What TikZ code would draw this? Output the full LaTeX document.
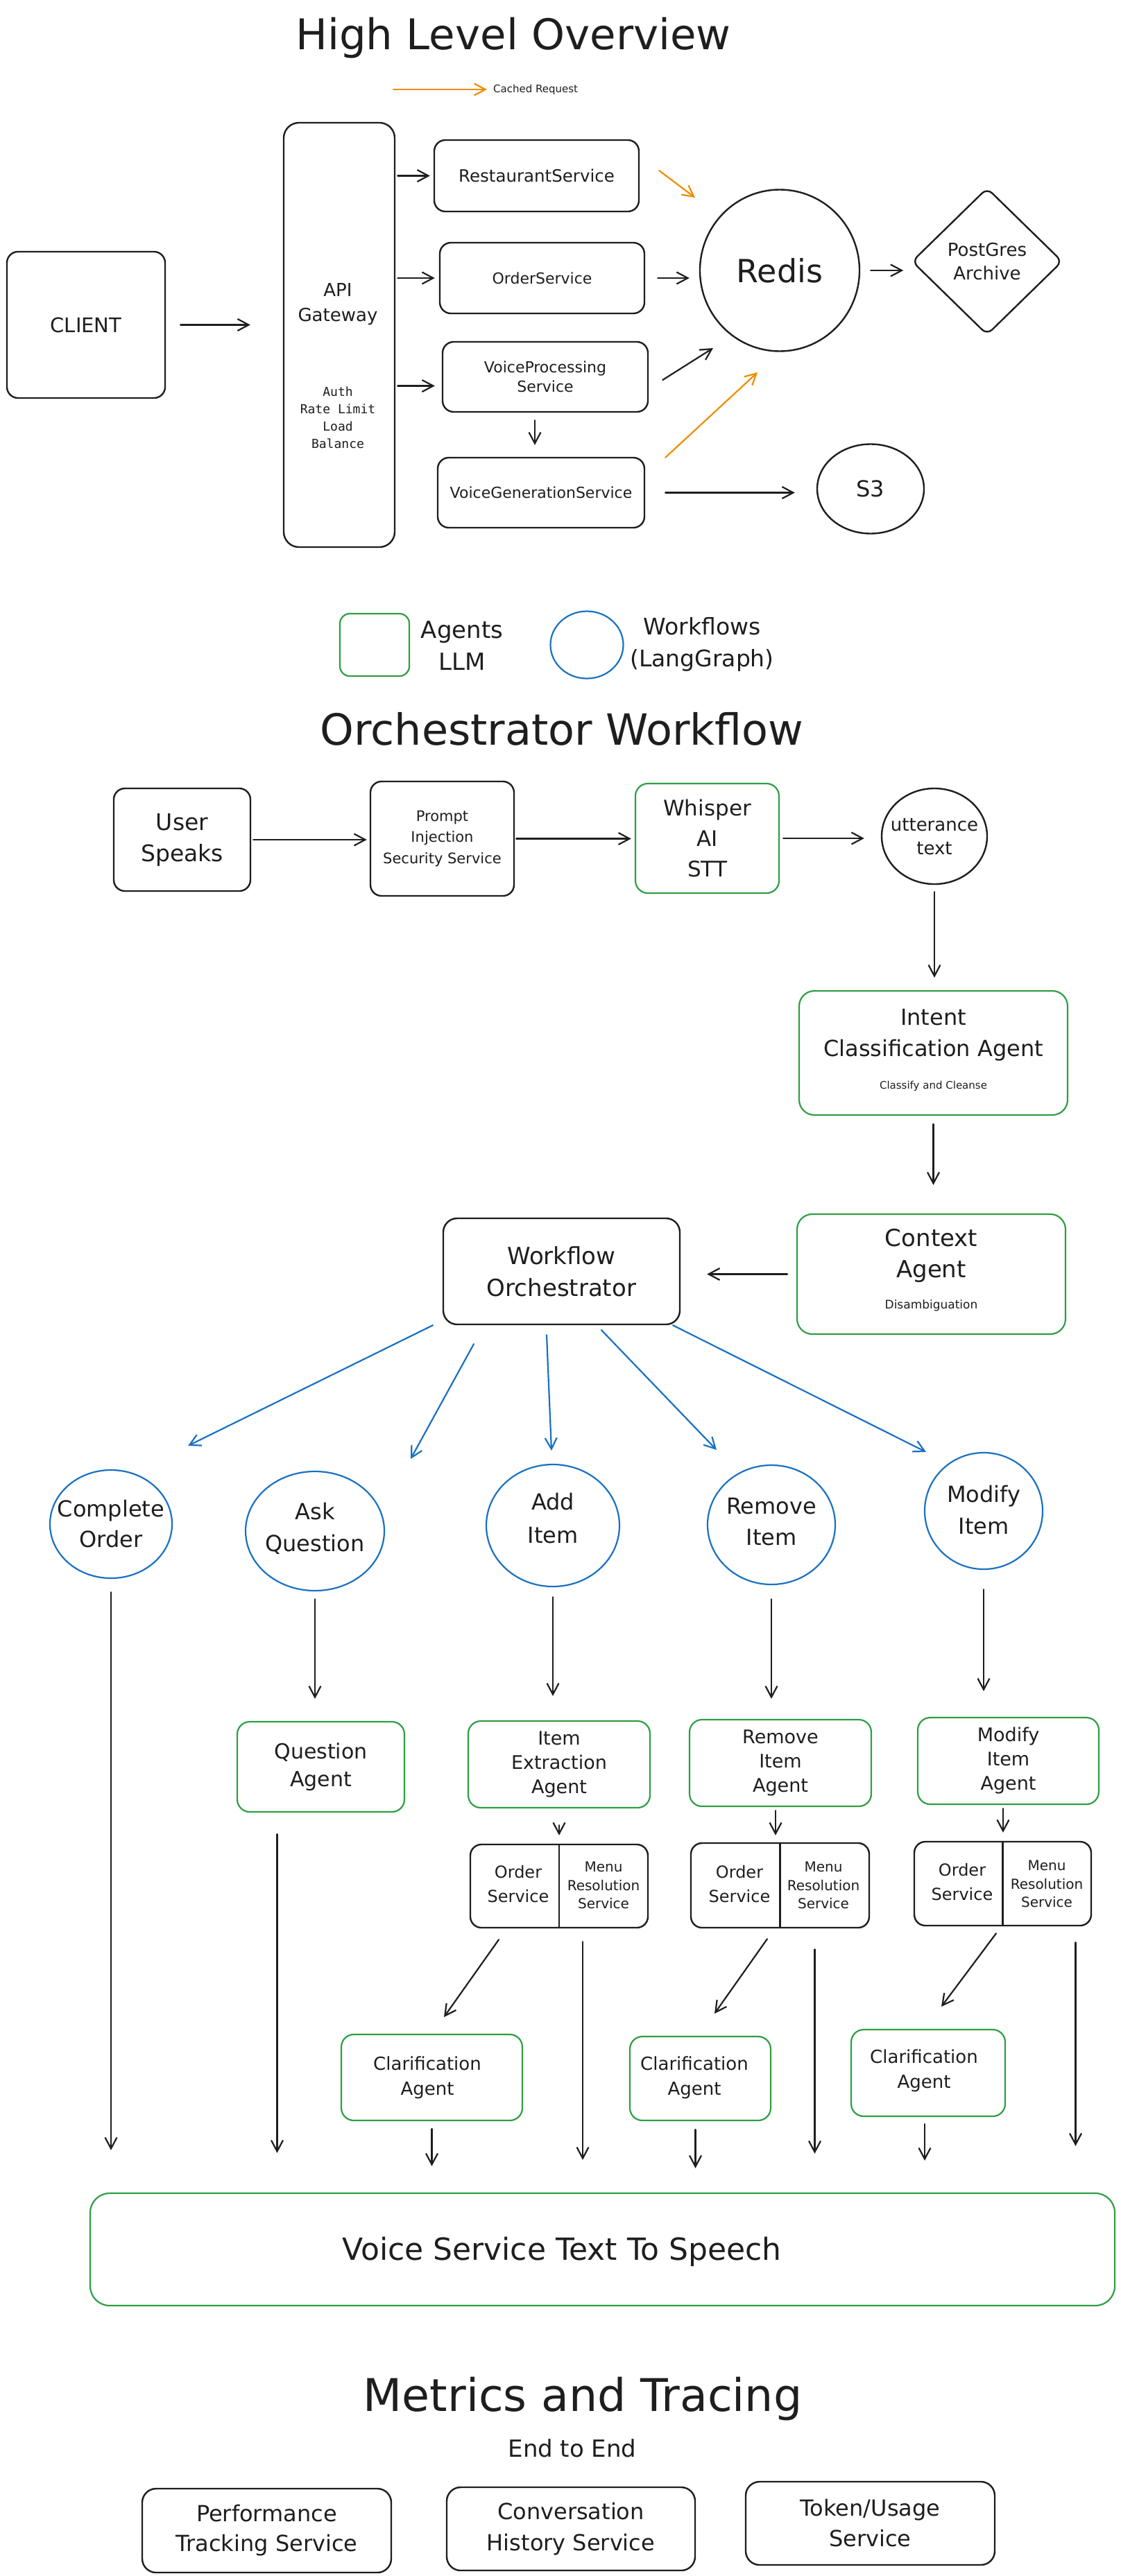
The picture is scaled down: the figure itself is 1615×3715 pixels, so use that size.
\documentclass[tikz,border=0pt]{standalone}
\usepackage{fontspec}
\setmainfont{DejaVu Sans}
\setmonofont{DejaVu Sans Mono}
\usetikzlibrary{arrows.meta,shapes.geometric}
\definecolor{ink}{HTML}{1E1E1E}
\definecolor{exgreen}{HTML}{2F9E44}
\definecolor{exblue}{HTML}{1971C2}
\definecolor{exorange}{HTML}{F08C00}
\newcommand\fz[2]{\fontsize{#1pt}{#2pt}\selectfont}
\tikzset{
  kbox/.style={draw=ink, line width=2.4pt, rounded corners=16pt, inner sep=0pt, text=ink, align=center},
  gbox/.style={draw=exgreen, line width=2.2pt, rounded corners=18pt, inner sep=0pt, text=ink, align=center},
  wfc/.style={ellipse, draw=exblue, line width=2.2pt, inner sep=0pt},
  kell/.style={ellipse, draw=ink, line width=2.4pt, inner sep=0pt, text=ink},
  txt/.style={text=ink, align=center, inner sep=0pt},
  arr/.style={draw=ink, line width=2.2pt, line cap=round, line join=round, -{Straight Barb[length=16pt,width=17pt]}},
  oarr/.style={arr, draw=exorange},
  barr/.style={arr, draw=exblue},
  divline/.style={draw=ink, line width=2.4pt}
}
\begin{document}
\begin{tikzpicture}[x=1pt,y=-1pt]
\fill[white] (0,0) rectangle (1615,3715);
\useasboundingbox (0,0) rectangle (1615,3715);

% ---------------- High Level Overview ----------------
\node[txt, anchor=base, font=\fz{61}{70}] (t1) at (740,71) {High Level Overview};
\node[txt, anchor=west, font=\fz{15}{18}] (cached) at (711,129) {Cached Request};
\draw[oarr] ([xshift=-144pt]cached.west) -- ([xshift=-9pt]cached.west);

\node[kbox, minimum width=228pt, minimum height=211pt, font=\fz{29}{34}] (client) at (124,468.5) {CLIENT};
\node[kbox, rounded corners=22pt, minimum width=160pt, minimum height=612pt] (api) at (489,483) {};
\node[txt, font=\fz{26}{36}] (apit) at (487,439) {API\\Gateway};
\node[txt, font={\ttfamily\fz{18}{25}}] (apis) at (487,602.5) {Auth\\Rate Limit\\Load\\Balance};

\node[kbox, minimum width=295pt, minimum height=103pt, font=\fz{24.5}{28}] (rest) at (773.5,253.5) {RestaurantService};
\node[kbox, minimum width=295pt, minimum height=102pt, font=\fz{22}{28}] (order) at (781.5,401) {OrderService};
\node[kbox, minimum width=296pt, minimum height=101pt, font=\fz{22}{28}] (vp) at (786,543.5) {VoiceProcessing\\Service};
\node[kbox, minimum width=298pt, minimum height=101pt, font=\fz{22}{28}] (vg) at (780,710.5) {VoiceGenerationService};

\node[kell, minimum width=230pt, minimum height=233pt, font=\fz{46}{50}] (redis) at (1124,390) {Redis};
\node[diamond, draw=ink, line width=2.4pt, minimum width=217pt, minimum height=212pt, inner sep=0pt, rounded corners=10pt] (pg) at (1423,377) {};
\node[txt, font=\fz{26}{34}] (pgt) at (1423,377) {PostGres\\Archive};
\node[kell, minimum width=154pt, minimum height=129pt, font=\fz{32}{36}] (s3) at (1255,705) {S3};

\draw[arr, shorten <=21pt, shorten >=47pt] (client.east) -- (client.east -| api.west);
\draw[arr, shorten <=3pt, shorten >=5pt] (rest.west -| api.east) -- (rest.west);
\draw[arr, shorten <=3pt, shorten >=6pt] (order.west -| api.east) -- (order.west);
\draw[arr, shorten <=3pt, shorten >=10pt] ([yshift=-13pt]vp.west -| api.east) -- ([yshift=-13pt]vp.west);
\draw[arr, shorten <=11pt, shorten >=17pt] ([xshift=-15pt]vp.south) -- ([xshift=-15pt]vp.south |- vg.north);
\draw[arr, shorten <=18pt, shorten >=14pt] (order.east) -- (order.east -| redis.west);
\draw[arr, shorten <=15pt, shorten >=11pt] (redis.east) -- (redis.east -| pg.west);
\draw[oarr] ([shift={(28pt,7.5pt)}]rest.east) -- ([shift={(-122pt,105pt)}]redis.center);
\draw[arr] ([shift={(20pt,-4.5pt)}]vp.east) -- ([shift={(-96pt,-112pt)}]redis.center);
\draw[oarr] ([shift={(29pt,-1pt)}]vg.north east) -- ([shift={(-32pt,-147pt)}]redis.center);
\draw[arr, shorten <=29pt, shorten >=31pt] (vg.east) -- (vg.east -| s3.west);

% ---------------- Legend ----------------
\node[gbox, rounded corners=14pt, minimum width=100pt, minimum height=90pt] (lga) at (540,930) {};
\node[txt, font=\fz{34}{46}] (lgat) at (666,931) {Agents\\LLM};
\node[wfc, minimum width=105pt, minimum height=97pt] (lgw) at (846,930) {};
\node[txt, font=\fz{33}{46}] (lgwt) at (1012,929) {Workflows\\(LangGraph)};

% ---------------- Orchestrator Workflow ----------------
\node[txt, anchor=base, font=\fz{62}{70}] (t2) at (810,1074) {Orchestrator Workflow};

\node[kbox, minimum width=197pt, minimum height=148pt, font=\fz{33}{45}] (user) at (262.5,1211) {User\\Speaks};
\node[kbox, minimum width=207pt, minimum height=165pt, font=\fz{21}{30.5}] (prompt) at (637.5,1209.5) {Prompt\\Injection\\Security Service};
\node[gbox, minimum width=207pt, minimum height=158pt, font=\fz{31}{44}] (whisper) at (1019.5,1209) {Whisper\\AI\\STT};
\node[kell, minimum width=152pt, minimum height=138pt] (utt) at (1347,1206) {};
\node[txt, font=\fz{26}{34}] (uttt) at (1347,1207) {utterance\\text};

\node[gbox, rounded corners=22pt, minimum width=387pt, minimum height=179pt] (intent) at (1345.5,1518.5) {};
\node[txt, font=\fz{32}{45}] (intentt) at (1345.5,1492.5) {Intent\\Classification Agent};
\node[txt, font=\fz{15}{18}] (intents) at (1345.5,1566) {Classify and Cleanse};

\node[gbox, rounded corners=22pt, minimum width=387pt, minimum height=173pt] (context) at (1342.5,1837.5) {};
\node[txt, font=\fz{34}{45}] (contextt) at (1342.5,1810.5) {Context\\Agent};
\node[txt, font=\fz{17}{20}] (contexts) at (1342.5,1883) {Disambiguation};

\node[kbox, rounded corners=20pt, minimum width=341pt, minimum height=153pt, font=\fz{34}{46}] (orch) at (809.5,1833.5) {Workflow\\Orchestrator};

\draw[arr, shorten <=3pt, shorten >=4pt] (user.east) -- (user.east -| prompt.west);
\draw[arr, shorten <=2pt, shorten >=5pt] (prompt.east) -- (prompt.east -| whisper.west);
\draw[arr, shorten <=5pt, shorten >=24pt] (whisper.east) -- (whisper.east -| utt.west);
\draw[arr, shorten <=10pt, shorten >=18pt] (utt.south) -- (utt.south |- intent.north);
\draw[arr, shorten <=12pt, shorten >=41pt] (intent.south) -- (intent.south |- context.north);
\draw[arr, shorten <=13pt, shorten >=38pt] (context.west) -- (context.west -| orch.east);

% workflow circles
\node[wfc, minimum width=176pt, minimum height=156pt] (complete) at (160,2198) {};
\node[txt, font=\fz{32}{44}] (completet) at (160,2198) {Complete\\Order};
\node[wfc, minimum width=200pt, minimum height=172pt] (ask) at (454,2208) {};
\node[txt, font=\fz{32}{46}] (askt) at (454,2204) {Ask\\Question};
\node[wfc, minimum width=192pt, minimum height=176pt] (add) at (797,2200) {};
\node[txt, font=\fz{32}{48}] (addt) at (797,2190) {Add\\Item};
\node[wfc, minimum width=184pt, minimum height=172pt] (remove) at (1112,2199) {};
\node[txt, font=\fz{32}{45}] (removet) at (1112,2195) {Remove\\Item};
\node[wfc, minimum width=170pt, minimum height=168pt] (modify) at (1418,2179) {};
\node[txt, font=\fz{32}{46}] (modifyt) at (1418,2178) {Modify\\Item};

\draw[barr] ([xshift=-185.5pt]orch.south) -- ([shift={(111pt,113pt)}]complete.center);
\draw[barr] ([shift={(-126.5pt,-27pt)}]orch.south) -- ([shift={(138pt,104pt)}]ask.center);
\draw[barr] ([shift={(-21.5pt,-14pt)}]orch.south) -- ([shift={(-2pt,108pt)}]add.center);
\draw[barr] ([shift={(57.5pt,-7pt)}]orch.south) -- ([shift={(-79pt,108pt)}]remove.center);
\draw[barr] ([xshift=160.5pt]orch.south) -- ([shift={(-83pt,85pt)}]modify.center);

% agents
\node[gbox, minimum width=241pt, minimum height=130pt, font=\fz{30}{40}] (qa) at (462.5,2548) {Question\\Agent};
\node[gbox, minimum width=262pt, minimum height=125pt, font=\fz{27}{35}] (ie) at (806,2544.5) {Item\\Extraction\\Agent};
\node[gbox, minimum width=262pt, minimum height=125pt, font=\fz{27}{35}] (ria) at (1125,2542.5) {Remove\\Item\\Agent};
\node[gbox, minimum width=261pt, minimum height=125pt, font=\fz{27}{35}] (mia) at (1453.5,2539.5) {Modify\\Item\\Agent};

% split service boxes
\node[kbox, minimum width=256pt, minimum height=120pt] (sp1) at (806,2720) {};
\draw[divline] (sp1.north) -- (sp1.south);
\node[txt, font=\fz{24}{35}] (sp1o) at (747,2717) {Order\\Service};
\node[txt, font=\fz{20}{26.5}] (sp1m) at (870,2719) {Menu\\Resolution\\Service};

\node[kbox, minimum width=257pt, minimum height=122pt] (sp2) at (1124.5,2719) {};
\draw[divline] (sp2.north) -- (sp2.south);
\node[txt, font=\fz{24}{35}] (sp2o) at (1066,2717) {Order\\Service};
\node[txt, font=\fz{20}{26.5}] (sp2m) at (1187,2719) {Menu\\Resolution\\Service};

\node[kbox, minimum width=255pt, minimum height=121pt] (sp3) at (1445.5,2716.5) {};
\draw[divline] (sp3.north) -- (sp3.south);
\node[txt, font=\fz{24}{35}] (sp3o) at (1387,2714) {Order\\Service};
\node[txt, font=\fz{20}{26.5}] (sp3m) at (1509,2717) {Menu\\Resolution\\Service};

% clarification agents
\node[gbox, minimum width=261pt, minimum height=124pt] (c1) at (622.5,2996) {};
\node[txt, font=\fz{26}{36}] (c1t) at (616,2996) {Clarification\\Agent};
\node[gbox, minimum width=203pt, minimum height=121pt] (c2) at (1009.5,2997.5) {};
\node[txt, font=\fz{26}{36}] (c2t) at (1001,2996) {Clarification\\Agent};
\node[gbox, minimum width=222pt, minimum height=125pt] (c3) at (1338,2989.5) {};
\node[txt, font=\fz{26}{36}] (c3t) at (1332,2986) {Clarification\\Agent};

% TTS
\node[gbox, rounded corners=28pt, minimum width=1477pt, minimum height=162pt] (tts) at (868.5,3244) {};
\node[txt, font=\fz{44}{50}] (ttst) at (810,3247) {Voice Service Text To Speech};

% vertical flow arrows
\draw[arr, shorten <=19pt, shorten >=61pt] (complete.south) -- (complete.south |- tts.north);
\draw[arr, shorten <=11pt, shorten >=32pt] (ask.south) -- (ask.south |- qa.north);
\draw[arr, shorten <=31pt, shorten >=57pt] ([xshift=-63pt]qa.south) -- ([xshift=-63pt]qa.south |- tts.north);

\draw[arr, shorten <=14pt, shorten >=35pt] (add.south) -- (add.south |- ie.north);
\draw[arr, shorten <=24pt, shorten >=12pt] (ie.south) -- (ie.south |- sp1.north);
\draw[arr] ([shift={(-87pt,-16pt)}]sp1.south) -- ([shift={(17.5pt,24pt)}]c1.north);
\draw[arr, shorten <=19pt, shorten >=47pt] ([xshift=34pt]sp1.south) -- ([xshift=34pt]sp1.south |- tts.north);
\draw[arr, shorten <=11pt, shorten >=38pt] (c1.south) -- (c1.south |- tts.north);

\draw[arr, shorten <=20pt, shorten >=29pt] (remove.south) -- (remove.south |- ria.north);
\draw[arr, shorten <=5pt, shorten >=10pt] ([xshift=-7pt]ria.south) -- ([xshift=-7pt]ria.south |- sp2.north);
\draw[arr] ([shift={(-18.5pt,-15pt)}]sp2.south) -- ([shift={(20.5pt,32pt)}]c2.north);
\draw[arr, shorten <=30pt, shorten >=56pt] ([xshift=50pt]sp2.south) -- ([xshift=50pt]sp2.south |- tts.north);
\draw[arr, shorten <=12pt, shorten >=35pt] ([xshift=-7pt]c2.south) -- ([xshift=-7pt]c2.south |- tts.north);

\draw[arr, shorten <=28pt, shorten >=37pt] (modify.south) -- (modify.south |- mia.north);
\draw[arr, shorten <=5pt, shorten >=12pt] ([xshift=-7.5pt]mia.south) -- ([xshift=-7.5pt]mia.south |- sp3.north);
\draw[arr] ([shift={(-9.5pt,-10pt)}]sp3.south) -- ([shift={(19pt,32pt)}]c3.north);
\draw[arr, shorten <=23pt, shorten >=67pt] ([xshift=105pt]sp3.south) -- ([xshift=105pt]sp3.south |- tts.north);
\draw[arr, shorten <=10pt, shorten >=46pt] ([xshift=-5pt]c3.south) -- ([xshift=-5pt]c3.south |- tts.north);

% ---------------- Metrics and Tracing ----------------
\node[txt, anchor=base, font=\fz{65}{72}] (t3) at (840,3477) {Metrics and Tracing};
\node[txt, font=\fz{34}{40}] (e2e) at (825,3531) {End to End};
\node[kbox, rounded corners=20pt, minimum width=359pt, minimum height=121pt, font=\fz{32}{43}] (perf) at (384.5,3649.5) {Performance\\Tracking Service};
\node[kbox, rounded corners=20pt, minimum width=358pt, minimum height=120pt, font=\fz{32}{45}] (conv) at (823,3647) {Conversation\\History Service};
\node[kbox, rounded corners=20pt, minimum width=359pt, minimum height=120pt, font=\fz{32}{44}] (token) at (1254.5,3639) {Token/Usage\\Service};
\end{tikzpicture}
\end{document}
